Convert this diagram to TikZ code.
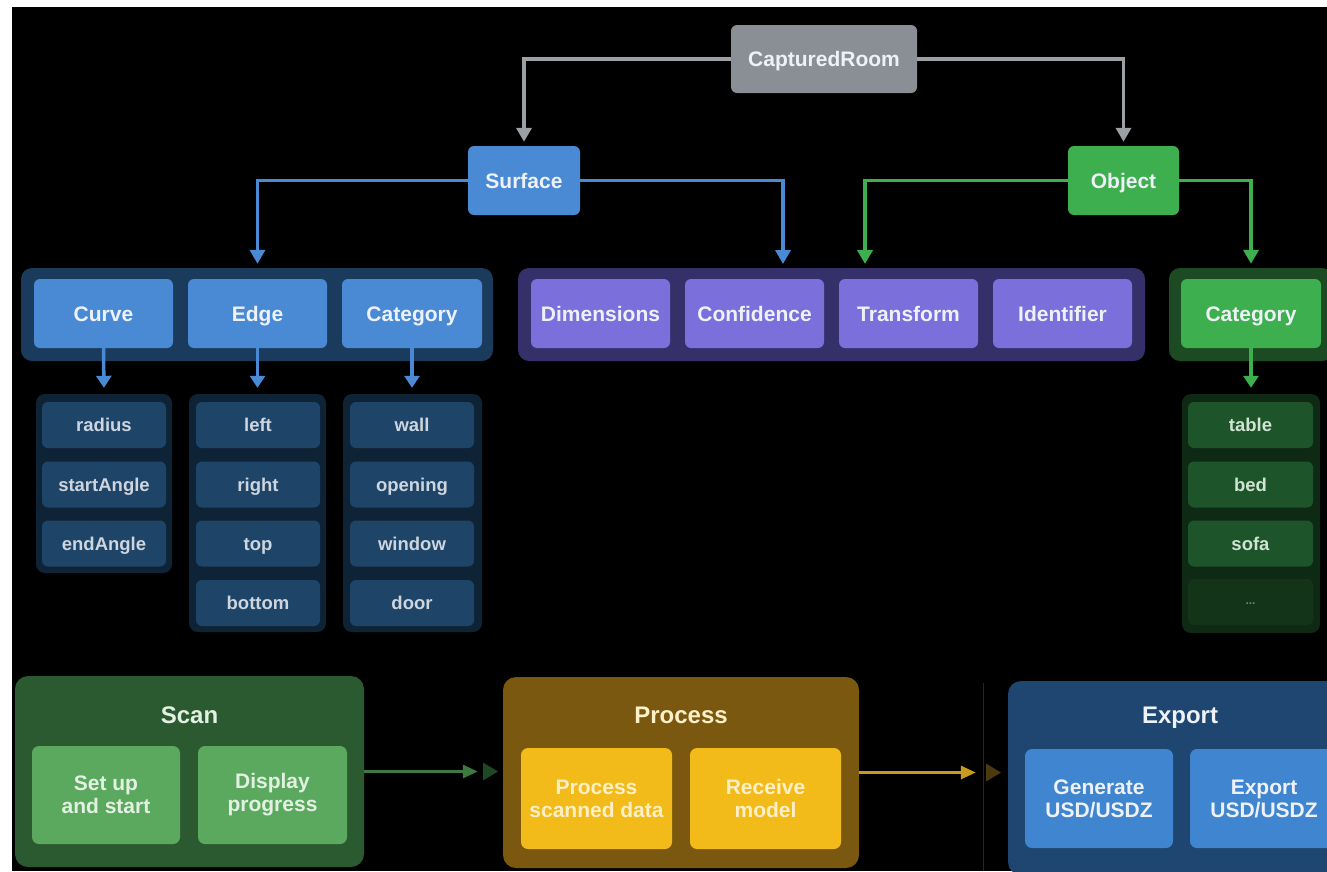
\documentclass[tikz,border=0pt]{standalone}
\usepackage{fontspec}
\setmainfont{Liberation Sans}
\usetikzlibrary{arrows.meta}
\definecolor{grayBox}{HTML}{8A8F96}
\definecolor{grayArrow}{HTML}{9C9FA4}
\definecolor{blueBox}{HTML}{4A8AD4}
\definecolor{grpBlue}{HTML}{1B3B5C}
\definecolor{grpPurple}{HTML}{35306A}
\definecolor{purpleBox}{HTML}{7A6FDB}
\definecolor{greenBox}{HTML}{3DAF4E}
\definecolor{grpGreen}{HTML}{1C4A22}
\definecolor{listBlue}{HTML}{0F2336}
\definecolor{itemBlue}{HTML}{1E4468}
\definecolor{listGreen}{HTML}{0F2A14}
\definecolor{itemGreen}{HTML}{1E5429}
\definecolor{itemGreenDim}{HTML}{133419}
\definecolor{scanOuter}{HTML}{2C5A30}
\definecolor{scanInner}{HTML}{5BA95E}
\definecolor{procOuter}{HTML}{7A5810}
\definecolor{procInner}{HTML}{F2BB1A}
\definecolor{expOuter}{HTML}{1E4670}
\definecolor{expInner}{HTML}{3F85CF}
\definecolor{scanArrow}{HTML}{3D7A42}
\definecolor{scanFade}{HTML}{1E4823}
\definecolor{procArrow}{HTML}{C99A1C}
\definecolor{procFade}{HTML}{4A3A10}
\definecolor{faintLine}{HTML}{262626}
\definecolor{txtLight}{HTML}{EEF2F8}
\definecolor{txtList}{HTML}{CDD5DF}
\definecolor{txtListG}{HTML}{D0E4D3}
\definecolor{txtScan}{HTML}{E3F1E3}
\definecolor{txtProc}{HTML}{FDF0C8}
\begin{document}
\begin{tikzpicture}[x=1pt,y=-1pt,
  hbox/.style={rounded corners=6pt, inner sep=0pt, align=center, text=txtLight,
    text height=15pt, text depth=0pt,
    font=\fontsize{21}{24}\bfseries\selectfont},
  grp/.style={rounded corners=11pt, inner sep=0pt},
  lcont/.style={rounded corners=9pt, inner sep=0pt, fill=listBlue},
  item/.style={rounded corners=6pt, inner sep=0pt, minimum width=124pt, minimum height=46pt,
    text height=13pt, text depth=0pt,
    fill=itemBlue, text=txtList, font=\fontsize{18.5}{22}\bfseries\selectfont},
  gitem/.style={item, minimum width=125pt, fill=itemGreen, text=txtListG},
  bcont/.style={rounded corners=13pt, inner sep=0pt},
  btitle/.style={inner sep=0pt, font=\fontsize{24}{28}\bfseries\selectfont},
  binner/.style={rounded corners=7pt, inner sep=0pt, align=center,
    font=\fontsize{21}{23}\bfseries\selectfont},
  conn/.style={line width=3.5pt, -{Triangle[width=15pt,length=14pt]}, shorten >=4pt},
  conndown/.style={line width=3.5pt, -{Triangle[width=15pt,length=12pt]}, shorten >=6pt},
  connflow/.style={line width=3pt, -{Triangle[width=13pt,length=15pt]}}
]
\fill[white] (0,0) rectangle (1327,871);
\useasboundingbox (0,0) rectangle (1327,871);
\clip (0,0) rectangle (1327,871);
\fill[black] (12,7) rectangle (1327,871);

% top level
\node[hbox, fill=grayBox, minimum width=186pt, minimum height=68pt] (cr) at (824,59) {CapturedRoom};
\node[hbox, fill=blueBox, minimum width=112pt, minimum height=69pt] (surface) at (524,180.5) {Surface};
\node[hbox, fill=greenBox, minimum width=111pt, minimum height=69pt] (object) at (1123.5,180.5) {Object};

% group containers
\node[grp, fill=grpBlue, minimum width=472pt, minimum height=93pt] (sgroup) at (257,314.5) {};
\node[grp, fill=grpPurple, minimum width=627pt, minimum height=93pt] (pgroup) at (831.5,314.5) {};
\node[grp, fill=grpGreen, minimum width=164pt, minimum height=93pt] (ggroup) at (1251,314.5) {};

\node[hbox, fill=blueBox, minimum width=139pt, minimum height=69pt] (curve) at (103.5,313.5) {Curve};
\node[hbox, fill=blueBox, minimum width=139pt, minimum height=69pt] (edge) at (257.5,313.5) {Edge};
\node[hbox, fill=blueBox, minimum width=140pt, minimum height=69pt] (scat) at (412,313.5) {Category};

\node[hbox, fill=purpleBox, minimum width=139pt, minimum height=69pt] (dim) at (600.5,313.5) {Dimensions};
\node[hbox, fill=purpleBox, minimum width=139pt, minimum height=69pt] (conf) at (754.5,313.5) {Confidence};
\node[hbox, fill=purpleBox, minimum width=139pt, minimum height=69pt] (trans) at (908.5,313.5) {Transform};
\node[hbox, fill=purpleBox, minimum width=139pt, minimum height=69pt] (ident) at (1062.5,313.5) {Identifier};

\node[hbox, fill=greenBox, minimum width=140pt, minimum height=69pt] (gcat) at (1251,313.5) {Category};

% lists
\node[lcont, minimum width=136pt, minimum height=179pt] (curvelist) at (104,483.5) {};
\node[lcont, minimum width=137pt, minimum height=238pt] (edgelist) at (257.5,513) {};
\node[lcont, minimum width=139pt, minimum height=238pt] (catlist) at (412.5,513) {};
\node[lcont, fill=listGreen, minimum width=138pt, minimum height=239pt] (objlist) at (1251,513.5) {};

\node[item] (radius) at (104,425) {radius};
\node[item] (startA) at (104,484.5) {startAngle};
\node[item] (endA) at (104,543.5) {endAngle};

\node[item] (left) at (258,425) {left};
\node[item] (right) at (258,484.5) {right};
\node[item] (top) at (258,543.5) {top};
\node[item] (bottom) at (258,603) {bottom};

\node[item] (wall) at (412,425) {wall};
\node[item] (opening) at (412,484.5) {opening};
\node[item] (window) at (412,543.5) {window};
\node[item] (door) at (412,603) {door};

\node[gitem] (table) at (1250.5,425) {table};
\node[gitem] (bed) at (1250.5,484.5) {bed};
\node[gitem] (sofa) at (1250.5,543.5) {sofa};
\node[gitem, fill=itemGreenDim, text=txtListG!45!itemGreenDim, text height=4pt, font=\fontsize{12}{14}\bfseries\selectfont] (more) at (1250.5,602) {...};

% connectors
\coordinate (pinA) at (783,268);
\coordinate (pinB) at (865,268);
\draw[conn, grayArrow] (cr.west) -| (surface.north);
\draw[conn, grayArrow] (cr.east) -| (object.north);
\draw[conn, blueBox] (surface.west) -| (edge |- sgroup.north);
\draw[conn, blueBox] (surface.east) -| (pinA);
\draw[conn, greenBox] (object.west) -| (pinB);
\draw[conn, greenBox] (object.east) -| (gcat |- ggroup.north);

\draw[conndown, blueBox] (curve.south) -- (curvelist.north);
\draw[conndown, blueBox] (edge.south) -- (edge |- edgelist.north);
\draw[conndown, blueBox] (scat.south) -- (scat |- catlist.north);
\draw[conndown, greenBox] (gcat.south) -- (objlist.north);

% bottom flow
\node[bcont, fill=scanOuter, minimum width=349pt, minimum height=191pt] (scan) at (189.5,771.5) {};
\node[btitle, text=txtScan] (scant) at (189.5,715) {Scan};
\node[binner, fill=scanInner, text=txtScan, minimum width=148pt, minimum height=98pt] (setup) at (106,795) {Set up\\and start};
\node[binner, fill=scanInner, text=txtScan, minimum width=149pt, minimum height=98pt] (display) at (272.5,795) {Display\\progress};

\node[bcont, fill=procOuter, minimum width=356pt, minimum height=191pt] (process) at (681,772.5) {};
\node[btitle, text=txtProc] (processt) at (681,715) {Process};
\node[binner, fill=procInner, text=txtProc, minimum width=151pt, minimum height=101pt] (psd) at (596.5,798.5) {Process\\scanned data};
\node[binner, fill=procInner, text=txtProc, minimum width=151pt, minimum height=101pt] (rmodel) at (765.5,798.5) {Receive\\model};

\node[bcont, fill=expOuter, minimum width=344pt, minimum height=194pt] (export) at (1180,778) {};
\node[btitle, text=txtLight] (exportt) at (1180,718) {Export};
\node[binner, fill=expInner, text=txtLight, minimum width=148pt, minimum height=99pt] (gen) at (1099,798.5) {Generate\\USD/USDZ};
\node[binner, fill=expInner, text=txtLight, minimum width=148pt, minimum height=99pt] (expusd) at (1264,798.5) {Export\\USD/USDZ};

\draw[connflow, scanArrow, shorten >=25pt] (scan.east) -- (scan.east -| process.west);
\fill[scanFade] (483,762.5) -- (498,771.5) -- (483,780.5) -- cycle;
\draw[line width=1pt, faintLine] (983,683) -- (983,871);
\draw[connflow, procArrow, shorten >=32pt] (process.east) -- (process.east -| export.west);
\fill[procFade] (986,763.5) -- (1001,772.5) -- (986,781.5) -- cycle;
\end{tikzpicture}
\end{document}
